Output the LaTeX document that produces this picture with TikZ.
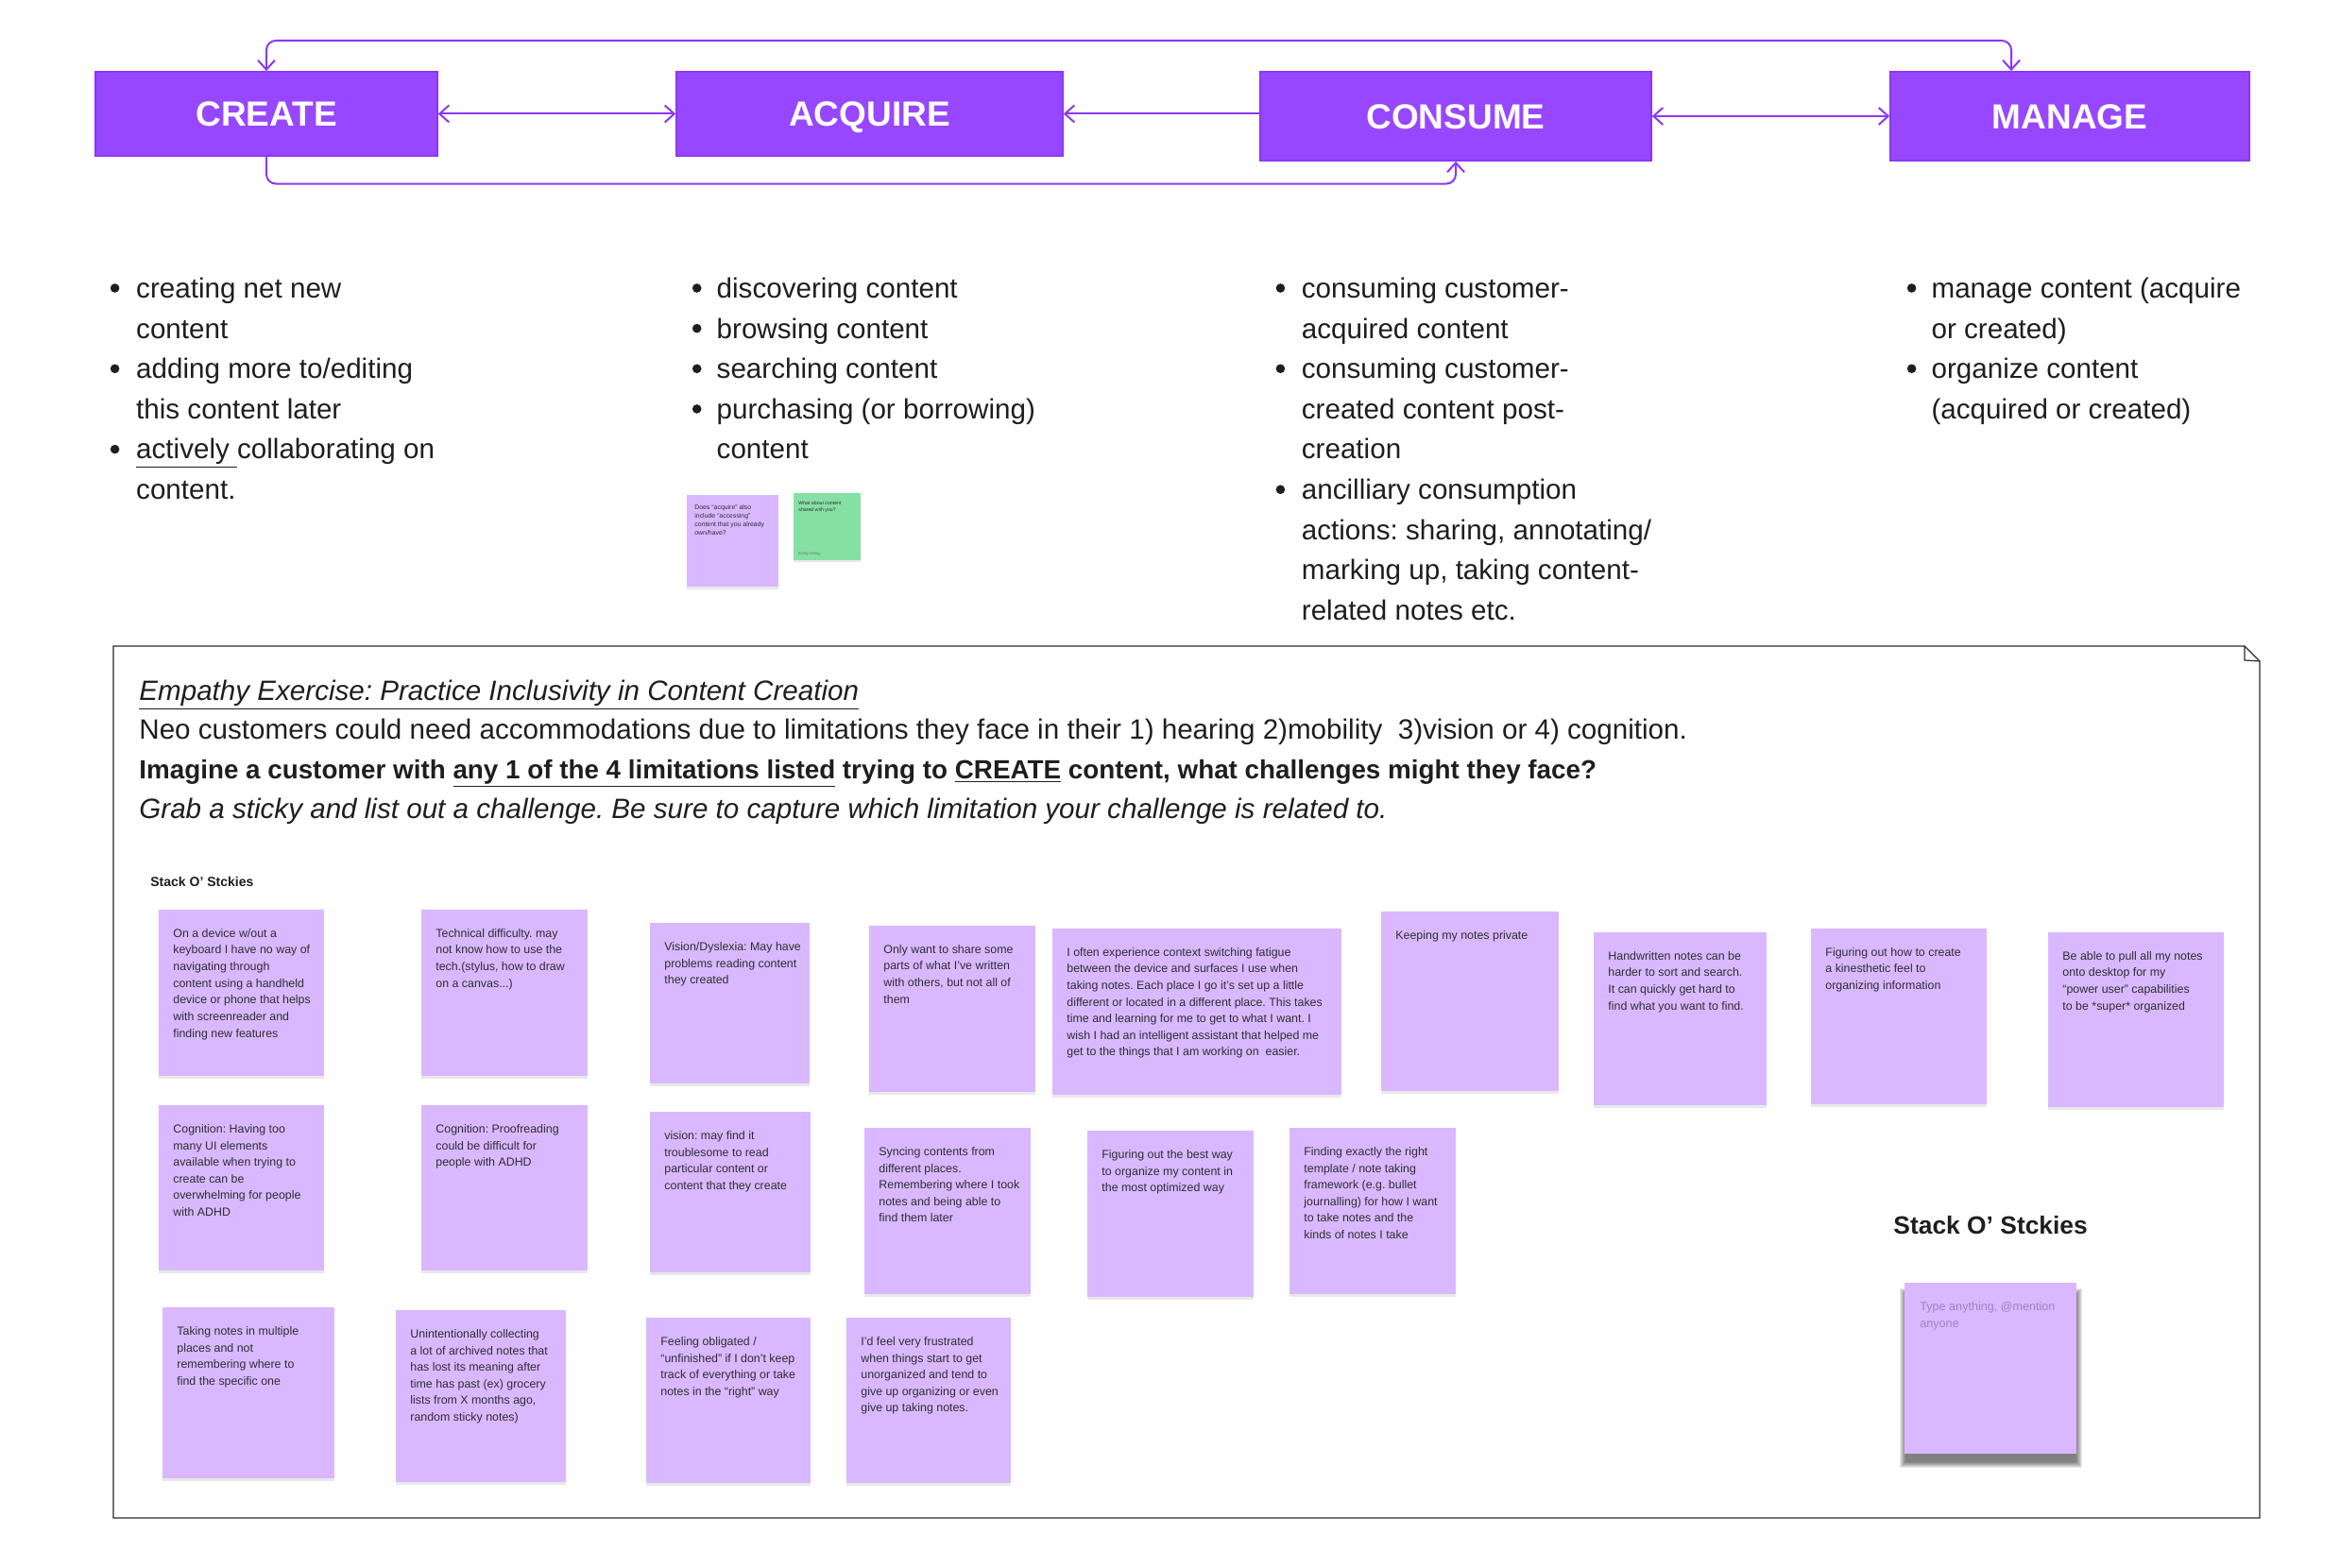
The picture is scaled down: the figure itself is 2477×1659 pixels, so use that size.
\documentclass[tikz,border=0pt]{standalone}
\usepackage{fontspec}
\setmainfont{Liberation Sans}
\frenchspacing
\usetikzlibrary{arrows.meta,shadows,calc}
\definecolor{hdr}{HTML}{9747FF}
\definecolor{hdrline}{HTML}{8A38F5}
\definecolor{stickyc}{HTML}{D9B8FF}
\definecolor{greenc}{HTML}{85E0A3}
\definecolor{ink}{HTML}{1E1E1E}
\definecolor{stxt}{HTML}{2E2E2E}
\definecolor{hint}{HTML}{9C84BF}
\definecolor{framec}{HTML}{2A2A2A}
\tikzset{
  hdrbox/.style={fill=hdr, draw=hdrline, line width=0.8pt, text=white,
    font=\fontsize{18.5pt}{22pt}\selectfont\bfseries, inner sep=0pt,
    text height=13.3pt, text depth=0pt},
  link/.style={draw=hdrline, line width=1pt, >={Straight Barb[length=5pt,width=9pt]}},
  bodytext/.style={font=\fontsize{14.8pt}{21.325pt}\selectfont, text=ink, inner sep=0pt, align=left},
  stickybox/.style={fill=stickyc, draw=none, inner sep=0pt,
    drop shadow={shadow xshift=0pt, shadow yshift=-1.5pt, opacity=0.09, fill=black}},
  stickytext/.style={font=\fontsize{6.2pt}{8.8pt}\selectfont, text=stxt, align=left, inner sep=0pt},
  framebox/.style={draw=framec, line width=0.6pt},
}
\newcommand{\stk}[6]{%
  \node[stickybox, anchor=north west, minimum width=#4*0.5pt, minimum height=#5*0.5pt] (#1) at (#2,#3) {};
  \node[stickytext, anchor=north west] (#1t) at ([xshift=7.5pt,yshift=-10pt]#1.north west) {#6};
}
\newcommand{\bul}[2]{\fill[ink] (#1,#2) circle (2.4pt);}
\begin{document}
\begin{tikzpicture}[x=0.5pt,y=-0.5pt]
\useasboundingbox (0,0) rectangle (2477,1659);
\fill[white] (0,0) rectangle (2477,1659);

% ---------- header boxes ----------
\node[hdrbox, minimum width=181pt, minimum height=44.5pt] (create) at (282,120.5) {CREATE};
\node[hdrbox, minimum width=204.5pt, minimum height=44.5pt] (acquire) at (920.5,120.5) {ACQUIRE};
\node[hdrbox, minimum width=207pt, minimum height=47pt] (consume) at (1541,123) {CONSUME};
\node[hdrbox, minimum width=190pt, minimum height=47pt] (manage) at (2191,123) {MANAGE};

\coordinate (topy) at (0,43);
\coordinate (boty) at (0,194.5);
\coordinate (mtop) at ([xshift=-31pt]manage.north);
\draw[link,<->,rounded corners=5pt] (create.north) |- (topy -| mtop) -- (mtop);
\draw[link,->,rounded corners=5pt] (create.south) |- (boty -| consume.south) -- (consume.south);
\draw[link,<->] (create.east) -- (acquire.west);
\draw[link,->] (consume.west |- acquire.east) -- (acquire.east);
\draw[link,<->] (consume.east) -- (manage.west);

% ---------- bullet columns ----------
\bul{121.6}{305}   \node[bodytext,anchor=north west] (c1a) at (143.8,293.5) {creating net new\\content};
\bul{121.6}{390.3} \node[bodytext,anchor=north west] (c1b) at (143.8,378.8) {adding more to/editing\\this content later};
\bul{121.6}{475.6} \node[bodytext,anchor=north west] (c1c) at (143.8,464.1) {\underline{actively\ }collaborating on\\content.};

\bul{737.7}{305}    \node[bodytext,anchor=north west] (c2a) at (758.3,293.5) {discovering content};
\bul{737.7}{347.65} \node[bodytext,anchor=north west] (c2b) at (758.3,336.15) {browsing content};
\bul{737.7}{390.3}  \node[bodytext,anchor=north west] (c2c) at (758.3,378.8) {searching content};
\bul{737.7}{432.95} \node[bodytext,anchor=north west] (c2d) at (758.3,421.45) {purchasing (or borrowing)\\content};

\bul{1355.4}{305}    \node[bodytext,anchor=north west] (c3a) at (1377.5,293.5) {consuming customer-\\acquired content};
\bul{1355.4}{390.3}  \node[bodytext,anchor=north west] (c3b) at (1377.5,378.8) {consuming customer-\\created content post-\\creation};
\bul{1355.4}{518.25} \node[bodytext,anchor=north west] (c3c) at (1377.5,506.75) {ancilliary consumption\\actions: sharing, annotating/\\marking up, taking content-\\related notes etc.};

\bul{2023.6}{305}   \node[bodytext,anchor=north west] (c4a) at (2044.2,293.5) {manage content (acquire\\or created)};
\bul{2023.6}{390.3} \node[bodytext,anchor=north west] (c4b) at (2044.2,378.8) {organize content\\(acquired or created)};

% ---------- small stickies near ACQUIRE ----------
\node[stickybox, anchor=north west, minimum width=48.5pt, minimum height=48.5pt] (q1) at (727,524) {};
\node[anchor=north west, inner sep=0pt, align=left, text=stxt, font=\fontsize{3.45pt}{4.35pt}\selectfont] (q1t) at ([xshift=4pt,yshift=-5.25pt]q1.north west) {Does “acquire” also\\include “accessing”\\content that you already\\own/have?};
\node[fill=greenc, inner sep=0pt, anchor=north west, minimum width=35.5pt, minimum height=35.5pt,
  drop shadow={shadow xshift=0pt, shadow yshift=-1pt, opacity=0.09, fill=black}] (q2) at (840,522) {};
\node[anchor=north west, inner sep=0pt, align=left, text=stxt, font=\fontsize{2.6pt}{3.65pt}\selectfont] (q2t) at ([xshift=2.5pt,yshift=-4pt]q2.north west) {What about content\\shared with you?};
\node[anchor=base west, inner sep=0pt, text=black!55, font=\fontsize{2.2pt}{3pt}\selectfont] (q2s) at (845,587) {Emily Deng};

% ---------- exercise frame ----------
\draw[framebox] (120,684) -- (2376,684) -- (2392,700) -- (2392,1607) -- (120,1607) -- cycle;
\draw[framebox] (2376,684) -- (2376,699) -- (2392,700);

\node[bodytext, anchor=base west] (title) at (147,741) {\itshape\underline{Empathy Exercise: Practice Inclusivity in Content Creation}};
\node[bodytext, anchor=base west] (neo) at (147,782) {Neo customers could need accommodations due to limitations they face in their 1) hearing 2)mobility\ \ 3)vision or 4) cognition.};
\node[bodytext, anchor=base west, font=\fontsize{13.9pt}{20pt}\selectfont\bfseries] (imag) at (147,824) {Imagine a customer with \underline{any 1 of the 4 limitations listed} trying to \underline{CREATE} content, what challenges might they face?};
\node[bodytext, anchor=base west] (grab) at (147,866) {\itshape Grab a sticky and list out a challenge. Be sure to capture which limitation your challenge is related to.};

\node[anchor=base west, inner sep=0pt, text=ink, font=\fontsize{7pt}{8pt}\selectfont\bfseries] (stacklbl) at (159,938) {Stack O’ Stckies};

% ---------- stickies ----------
\stk{s1}{168}{963}{175}{176}{On a device w/out a\\keyboard I have no way of\\navigating through\\content using a handheld\\device or phone that helps\\with screenreader and\\finding new features}
\stk{s2}{446}{963}{176}{176}{Technical difficulty. may\\not know how to use the\\tech.(stylus, how to draw\\on a canvas...)}
\stk{s3}{688}{977}{169}{170}{Vision/Dyslexia: May have\\problems reading content\\they created}
\stk{s4}{920}{980}{176}{176}{Only want to share some\\parts of what I’ve written\\with others, but not all of\\them}
\stk{s5}{1114}{983}{306}{176}{I often experience context switching fatigue\\between the device and surfaces I use when\\taking notes. Each place I go it’s set up a little\\different or located in a different place. This takes\\time and learning for me to get to what I want. I\\wish I had an intelligent assistant that helped me\\get to the things that I am working on\ \ easier.}
\stk{s6}{1462}{965}{188}{190}{Keeping my notes private}
\stk{s7}{1687}{987}{183}{183}{Handwritten notes can be\\harder to sort and search.\\It can quickly get hard to\\find what you want to find.}
\stk{s8}{1917}{983}{186}{186}{Figuring out how to create\\a kinesthetic feel to\\organizing information}
\stk{s9}{2168}{987}{186}{185}{Be able to pull all my notes\\onto desktop for my\\“power user” capabilities\\to be *super* organized}

\stk{s10}{168}{1170}{175}{175}{Cognition: Having too\\many UI elements\\available when trying to\\create can be\\overwhelming for people\\with ADHD}
\stk{s11}{446}{1170}{176}{175}{Cognition: Proofreading\\could be difficult for\\people with ADHD}
\stk{s12}{688}{1177}{170}{170}{vision: may find it\\troublesome to read\\particular content or\\content that they create}
\stk{s13}{915}{1194}{176}{176}{Syncing contents from\\different places.\\Remembering where I took\\notes and being able to\\find them later}
\stk{s14}{1151}{1197}{176}{176}{Figuring out the best way\\to organize my content in\\the most optimized way}
\stk{s15}{1365}{1194}{176}{176}{Finding exactly the right\\template / note taking\\framework (e.g. bullet\\journalling) for how I want\\to take notes and the\\kinds of notes I take}

\stk{s16}{172}{1384}{182}{181}{Taking notes in multiple\\places and not\\remembering where to\\find the specific one}
\stk{s17}{419}{1387}{180}{182}{Unintentionally collecting\\a lot of archived notes that\\has lost its meaning after\\time has past (ex) grocery\\lists from X months ago,\\random sticky notes)}
\stk{s18}{684}{1395}{174}{175}{Feeling obligated /\\“unfinished” if I don’t keep\\track of everything or take\\notes in the “right” way}
\stk{s19}{896}{1395}{174}{175}{I’d feel very frustrated\\when things start to get\\unorganized and tend to\\give up organizing or even\\give up taking notes.}

% ---------- stack label and empty sticky ----------
\node[anchor=base west, inner sep=0pt, text=ink, font=\fontsize{13.2pt}{16pt}\selectfont\bfseries] (stackbig) at (2004,1306) {Stack O’ Stckies};
\foreach \i in {0,...,6} {
  \fill[black, opacity=0.09] (2011+\i,1364+\i) rectangle (2204-\i,1554-\i);
}
\node[fill=stickyc, inner sep=0pt, anchor=north west, minimum width=91pt, minimum height=90.5pt] (empty) at (2016,1358) {};
\node[anchor=north west, inner sep=0pt, align=left, text=hint, font=\fontsize{6.3pt}{9pt}\selectfont] (emptyt) at ([xshift=8pt,yshift=-10pt]empty.north west) {Type anything, @mention\\anyone};
\end{tikzpicture}
\end{document}
